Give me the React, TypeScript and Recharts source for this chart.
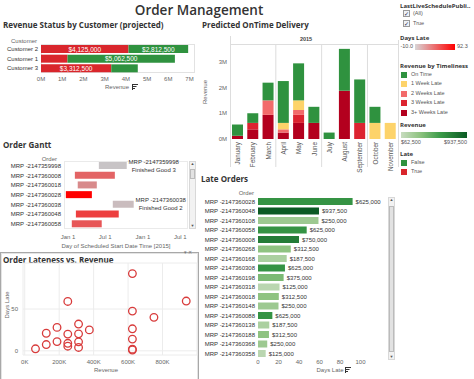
import React from 'react';
import { BarChart, Bar, XAxis, YAxis, ScatterChart, Scatter, CartesianGrid, LabelList, Cell } from 'recharts';

// Revenue Status by Customer (projected)
const customers = ['Customer 2', 'Customer 1', 'Customer 3'];
const customerLate = [4125000, 1250000, 3312500];
const customerOnTime = [2812500, 5062500, 1250000];
const revenueTicks = [0, 1000000, 2000000, 3000000, 4000000, 5000000, 6000000, 7000000];

// Predicted OnTime Delivery (revenue in millions)
const months = ['January', 'February', 'March', 'April', 'May', 'June', 'July', 'August', 'September', 'October', 'November'];
const onTimeM = [0.4375, 0.375, 0.6875, 1.625, 1.4375, 0.625, 0.25, 1.625, 1.6875, 0.625, 0];
const week1M = [0, 0, 0, 0.25, 0.375, 0, 0, 0, 0, 0.625, 0.625];
const week2M = [0, 0, 0.5625, 0.125, 0.1875, 0, 0, 0, 0, 0, 0];
const week3M = [0, 0.25, 0, 0, 0.3125, 0, 0, 0, 0.625, 0, 0];
const week3plusM = [0.125, 0.375, 0.9375, 0.25, 0.625, 0.625, 0, 1.875, 0, 0, 0];
const deliveryTicks = [0, 1, 2, 3];

const timeliness = ['On Time', '1 Week Late', '2 Weeks Late', '3 Weeks Late', '3+ Weeks Late'];

// Order Gantt (days from Jan 1 2015)
const ganttOrders = ['MRP -2147359998', 'MRP -2147360008', 'MRP -2147360018', 'MRP -2147360028', 'MRP -2147360038', 'MRP -2147360048', 'MRP -2147360058'];
const ganttStart = [150, 33, 47, -11, 218, 38, 18];
const ganttEnd = [286, 228, 140, 116, 320, 247, 164];
const ganttDaysLate = [-10, 40, 20.3, 92.3, -6, 59.5, 47.5];
const ganttProduct = ['Finished Good 3', '', '', '', 'Finished Good 2', '', ''];
const ganttTicks = [0, 181, 365, 547];
const ganttTickLabels = ['Jan 1', 'Jul 1', 'Jan 1', 'Jul 1'];

// Late Orders
const lateOrders = ['MRP -2147360028', 'MRP -2147360048', 'MRP -2147360108', 'MRP -2147360058', 'MRP -2147360008', 'MRP -2147360268', 'MRP -2147360168', 'MRP -2147360308', 'MRP -2147360198', 'MRP -2147360318', 'MRP -2147360018', 'MRP -2147360148', 'MRP -2147360088', 'MRP -2147360138', 'MRP -2147360188', 'MRP -2147360368', 'MRP -2147360358'];
const lateDays = [92.3, 59.5, 59, 47.5, 40, 32, 28, 26.3, 25, 21, 20.3, 20, 14, 11, 10.7, 9, 7.5];
const lateRevenue = [625000, 937500, 250000, 625000, 750000, 312500, 187500, 625000, 375000, 125000, 312500, 250000, 625000, 187500, 312500, 250000, 125000];
const lateTicks = [0, 20, 40, 60, 80, 100];

// orders further down the late list, only seen in the scatter
const otherRevenue = [625000, 625000, 312500, 250000, 62500];
const otherDays = [2, 1, 4, 5.5, 2.4];
const scatterXTicks = [0, 200000, 400000, 600000, 800000];
const scatterYTicks = [0, 50];

const RED = '#d9262c';
const GREEN = '#2f923f';
const STACK = ['#2f923f', '#fdd36a', '#f26b6b', '#dc2430', '#b3001e'];
const REV_STOPS = ['#c8dcbf', '#8cc27e', '#3a9a48', '#0b5a24'];

const money = (v: number) => '$' + v.toLocaleString('en-US');

function hex(c: string) {
  return [1, 3, 5].map(i => parseInt(c.slice(i, i + 2), 16));
}
function mix(a: string, b: string, t: number) {
  const A = hex(a), B = hex(b);
  return `rgb(${A.map((v, i) => Math.round(v + (B[i] - v) * t)).join(',')})`;
}
function daysLateColor(d: number) {
  const t = Math.max(0, Math.min(1, (d + 10) / 102.3));
  return mix('#c8c4c6', '#ff0000', t);
}
function revenueColor(r: number) {
  const t = Math.max(0, Math.min(1, (r - 62500) / 875000));
  const pos = [0, 0.3, 0.6, 1];
  let k = 0;
  while (k < 2 && t > pos[k + 1]) k++;
  return mix(REV_STOPS[k], REV_STOPS[k + 1], (t - pos[k]) / (pos[k + 1] - pos[k]));
}

const customerData = customers.map((c, i) => ({ customer: c, late: customerLate[i], onTime: customerOnTime[i] }));
const monthData = months.map((m, i) => ({
  month: m, w3p: week3plusM[i], w3: week3M[i], w2: week2M[i], w1: week1M[i], ok: onTimeM[i],
}));
const ganttData = ganttOrders.map((o, i) => ({
  order: o, range: [ganttStart[i], ganttEnd[i]], daysLate: ganttDaysLate[i],
  note: ganttProduct[i] ? `${o}|${ganttProduct[i]}` : '',
}));
const lateData = lateOrders.map((o, i) => ({ order: o, days: lateDays[i], revenue: lateRevenue[i] }));
const scatterData = [
  ...lateRevenue.map((r, i) => ({ revenue: r, days: lateDays[i] })),
  ...otherRevenue.map((r, i) => ({ revenue: r, days: otherDays[i] })),
];

const TITLE_FONT = '"Open Sans", sans-serif';

function Txt({ x, y, children, size = 6, weight = 400, color = '#555', align = 'left', rotate = false, font }: any) {
  const tx = align === 'left' ? '0' : align === 'center' ? '-50%' : '-100%';
  return (
    <div style={{
      position: 'absolute', left: x, top: y, transform: `translate(${tx}, -50%)${rotate ? ' rotate(-90deg)' : ''}`,
      fontSize: size, fontWeight: weight, color, whiteSpace: 'nowrap', lineHeight: 1, fontFamily: font,
    }}>{children}</div>
  );
}

function Box({ x, y, w, h, style }: any) {
  return <div style={{ position: 'absolute', left: x, top: y, width: w, height: h, boxSizing: 'border-box', ...style }} />;
}

function SortIcon({ x, y }: any) {
  return (
    <svg style={{ position: 'absolute', left: x, top: y }} width={7} height={6}>
      <line x1={1} y1={0.5} x2={7} y2={0.5} stroke="#333" />
      <line x1={1} y1={2.5} x2={5.5} y2={2.5} stroke="#333" />
      <line x1={1} y1={4.5} x2={4} y2={4.5} stroke="#333" />
      <line x1={1.5} y1={0} x2={1.5} y2={6} stroke="#333" />
    </svg>
  );
}

function CatTick({ x, y, payload }: any) {
  return (
    <text x={x} y={y} textAnchor="end" dominantBaseline="central" fontSize={6} fill="#333">{payload.value}</text>
  );
}

function InsideLabel(props: any) {
  const vb = props.viewBox || props;
  const x = props.x ?? vb.x, y = props.y ?? vb.y, width = props.width ?? vb.width, height = props.height ?? vb.height;
  if (!props.value || props.value < 2000000) return null;
  return (
    <text x={x + width / 2} y={y + height / 2} fill="#fff" fontSize={6.5} textAnchor="middle" dominantBaseline="central">
      {money(props.value)}
    </text>
  );
}

const BAND = 168 / 11;
function MonthTick({ x, y, payload, index }: any) {
  return (
    <g>
      <text x={x} y={y} transform={`rotate(-90 ${x} ${y})`} textAnchor="end" dominantBaseline="central" fontSize={6.3} fill="#555">
        {payload.value}
      </text>
      {index % 3 === 0 && index > 0 && (
        <line x1={x - BAND / 2} x2={x - BAND / 2} y1={y - 97} y2={y + 25} stroke="#ddd" />
      )}
    </g>
  );
}

function NoteLabel(props: any) {
  if (!props.value) return null;
  const vb = props.viewBox || props;
  const x = props.x ?? vb.x, y = props.y ?? vb.y, width = props.width ?? vb.width, height = props.height ?? vb.height;
  const [a, b] = String(props.value).split('|');
  const cx = x + width + 27;
  const cy = y + height / 2;
  return (
    <text fontSize={6} fill="#333" textAnchor="middle">
      <tspan x={cx} y={cy - 4} dominantBaseline="central">{a}</tspan>
      <tspan x={cx} y={cy + 4} dominantBaseline="central">{b}</tspan>
    </text>
  );
}

function Ring(p: any) {
  return <circle cx={p.cx} cy={p.cy} r={3.8} fill="none" stroke="#d83b3b" strokeWidth={1.3} />;
}

function Scrollbar({ x, y, h, thumbTop, thumbH }: any) {
  return (
    <>
      <Box x={x} y={y} w={7} h={h} style={{ background: '#f2f2f2', border: '1px solid #d8d8d8' }} />
      <Box x={x + 1} y={y + thumbTop} w={5} h={thumbH} style={{ background: '#e2e2e2', border: '1px solid #bbb' }} />
      <Txt x={x + 3.5} y={y + 3} size={4} align="center" color="#555">▲</Txt>
      <Txt x={x + 3.5} y={y + h - 3} size={4} align="center" color="#555">▼</Txt>
    </>
  );
}

const tickStyle = { fontSize: 6, fill: '#666' };

export default function App() {
  return (
    <div style={{ position: 'absolute', left: 0, top: 0, width: 474, height: 379, background: '#fff', overflow: 'hidden', fontFamily: '"Liberation Sans", Arial, sans-serif', color: '#555' }}>
      <Txt x={199} y={11} size={13.5} weight={600} color="#333" align="center" font={TITLE_FONT}>Order Management</Txt>

      {/* Revenue Status by Customer */}
      <Txt x={3} y={25} size={8} weight={700} color="#333" font={TITLE_FONT}>Revenue Status by Customer (projected)</Txt>
      <Txt x={37} y={41} size={6} color="#666" align="right">Customer</Txt>
      <Box x={41} y={44} w={154} h={29} style={{ border: '1px solid #e2e2e2' }} />
      <div style={{ position: 'absolute', left: 0, top: 36 }}>
        <BarChart width={200} height={60} data={customerData} layout="vertical" margin={{ top: 8, right: 5, left: 0, bottom: 0 }} barSize={8}>
          <XAxis type="number" domain={[0, 7260000]} ticks={revenueTicks} tickFormatter={(v: number) => `${v / 1000000}M`} axisLine={false} tickLine={false} tickSize={0} tickMargin={4} height={23} tick={tickStyle} interval={0} />
          <YAxis type="category" dataKey="customer" width={41} axisLine={false} tickLine={false} tickSize={0} tickMargin={3} tick={<CatTick />} interval={0} />
          <Bar dataKey="late" stackId="a" fill={RED} isAnimationActive={false}>
            <LabelList dataKey="late" content={InsideLabel} />
          </Bar>
          <Bar dataKey="onTime" stackId="a" fill={GREEN} isAnimationActive={false}>
            <LabelList dataKey="onTime" content={InsideLabel} />
          </Bar>
        </BarChart>
      </div>
      <Txt x={117} y={87} size={6} color="#666" align="center">Revenue</Txt>
      <SortIcon x={131} y={84} />

      {/* Predicted OnTime Delivery */}
      <Txt x={202} y={25} size={8} weight={700} color="#333" font={TITLE_FONT}>Predicted OnTime Delivery</Txt>
      <Txt x={306} y={40} size={5.5} weight={700} color="#444" align="center">2015</Txt>
      <Box x={230} y={44} w={168} h={1} style={{ background: '#ddd' }} />
      <Box x={230} y={36} w={1} h={131} style={{ background: '#ddd' }} />
      <Box x={398} y={40} w={1} h={127} style={{ background: '#ddd' }} />
      <Txt x={205} y={92} size={6} color="#666" align="center" rotate>Revenue</Txt>
      <div style={{ position: 'absolute', left: 195, top: 36 }}>
        <BarChart width={210} height={140} data={monthData} margin={{ top: 9, right: 7, left: 0, bottom: 0 }} barSize={11}>
          <XAxis dataKey="month" interval={0} axisLine={false} tickLine={false} tickSize={0} tickMargin={3} height={37} tick={<MonthTick />} />
          <YAxis domain={[0, 3.65]} ticks={deliveryTicks} tickFormatter={(v: number) => `${v}M`} width={35} axisLine={false} tickLine={false} tickSize={0} tickMargin={3} tick={tickStyle} />
          <Bar dataKey="w3p" stackId="s" fill={STACK[4]} isAnimationActive={false} />
          <Bar dataKey="w3" stackId="s" fill={STACK[3]} isAnimationActive={false} />
          <Bar dataKey="w2" stackId="s" fill={STACK[2]} isAnimationActive={false} />
          <Bar dataKey="w1" stackId="s" fill={STACK[1]} isAnimationActive={false} />
          <Bar dataKey="ok" stackId="s" fill={STACK[0]} isAnimationActive={false} />
        </BarChart>
      </div>

      {/* Legends */}
      <Txt x={400} y={6} size={6} weight={700} color="#333" font={TITLE_FONT}>LastLiveSchedulePubli..</Txt>
      {['(All)', 'True'].map((t, i) => (
        <React.Fragment key={t}>
          <Box x={403} y={10 + i * 10} w={7} h={7} style={{ border: '1px solid #999', background: '#eef2f8' }} />
          <Txt x={406.5} y={13.5 + i * 10} size={6} color="#224" align="center">✓</Txt>
          <Txt x={413} y={13.5 + i * 10} size={5.5} color="#555">{t}</Txt>
        </React.Fragment>
      ))}
      <Txt x={400} y={37.5} size={6} weight={700} color="#333" font={TITLE_FONT}>Days Late</Txt>
      <Box x={415} y={44} w={40} h={6} style={{ background: 'linear-gradient(to right, #d8d6d7, #ff0000)' }} />
      <Txt x={413} y={47} size={5.5} color="#555" align="right">-10.0</Txt>
      <Txt x={457} y={47} size={5.5} color="#555">92.3</Txt>
      <Txt x={400} y={66} size={6} weight={700} color="#333" font={TITLE_FONT}>Revenue by Timeliness</Txt>
      {timeliness.map((t, i) => (
        <React.Fragment key={t}>
          <Box x={401} y={72 + i * 9.4} w={6} h={6} style={{ background: STACK[i] }} />
          <Txt x={411} y={75 + i * 9.4} size={5.5} color="#555">{t}</Txt>
        </React.Fragment>
      ))}
      <Txt x={400} y={125} size={6} weight={700} color="#333" font={TITLE_FONT}>Revenue</Txt>
      <Box x={401} y={132} w={66} h={6} style={{ background: `linear-gradient(to right, ${REV_STOPS[0]}, ${REV_STOPS[1]} 30%, ${REV_STOPS[2]} 60%, ${REV_STOPS[3]})` }} />
      <Txt x={401} y={142.5} size={5.5} color="#555">{money(62500)}</Txt>
      <Txt x={467} y={142.5} size={5.5} color="#555" align="right">{money(937500)}</Txt>
      <Txt x={400} y={154} size={6} weight={700} color="#333" font={TITLE_FONT}>Late</Txt>
      {['False', 'True'].map((t, i) => (
        <React.Fragment key={t}>
          <Box x={401} y={159.5 + i * 9.4} w={6} h={6} style={{ background: i ? RED : GREEN }} />
          <Txt x={411} y={162.5 + i * 9.4} size={5.5} color="#555">{t}</Txt>
        </React.Fragment>
      ))}

      {/* Order Gantt */}
      <Txt x={3} y={145} size={8} weight={700} color="#333" font={TITLE_FONT}>Order Gantt</Txt>
      <Txt x={57} y={159} size={6} color="#666" align="right">Order</Txt>
      <Box x={64} y={161} w={124} h={68} style={{ border: '1px solid #eaeaea' }} />
      <div style={{ position: 'absolute', left: 0, top: 155 }}>
        <BarChart width={200} height={95} data={ganttData} layout="vertical" margin={{ top: 6, right: 13, left: 0, bottom: 0 }} barSize={7}>
          <XAxis type="number" domain={[-20, 580]} ticks={ganttTicks} tickFormatter={(v: number) => ganttTickLabels[ganttTicks.indexOf(v)]} axisLine={false} tickLine={false} tickSize={0} tickMargin={6} height={21} tick={tickStyle} interval={0} />
          <YAxis type="category" dataKey="order" width={64} axisLine={false} tickLine={false} tickSize={0} tickMargin={3} tick={<CatTick />} interval={0} />
          <Bar dataKey="range" isAnimationActive={false}>
            {ganttData.map((d, i) => <Cell key={i} fill={daysLateColor(d.daysLate)} />)}
            <LabelList dataKey="note" content={NoteLabel} />
          </Bar>
        </BarChart>
      </div>
      <Scrollbar x={189} y={161} h={68} thumbTop={8} thumbH={10} />
      <Txt x={116} y={245.5} size={6} color="#666" align="center">Day of Scheduled Start Date Time [2015]</Txt>

      {/* Late Orders */}
      <Txt x={201} y={179} size={8} weight={700} color="#333" font={TITLE_FONT}>Late Orders</Txt>
      <Txt x={254} y={192.5} size={6} color="#666" align="right">Order</Txt>
      <div style={{ position: 'absolute', left: 195, top: 190 }}>
        <BarChart width={200} height={180} data={lateData} layout="vertical" margin={{ top: 7, right: 14, left: 0, bottom: 0 }} barSize={7}>
          <XAxis type="number" domain={[0, 120]} ticks={lateTicks} axisLine={false} tickLine={false} tickSize={0} tickMargin={1} height={11.5} tick={tickStyle} interval={0} />
          <YAxis type="category" dataKey="order" width={63} axisLine={false} tickLine={false} tickSize={0} tickMargin={3} tick={<CatTick />} interval={0} />
          <Bar dataKey="days" isAnimationActive={false}>
            {lateData.map((d, i) => <Cell key={i} fill={revenueColor(d.revenue)} />)}
            <LabelList dataKey="revenue" position="right" offset={3} formatter={(v: any) => money(Number(v))} style={{ fontSize: 6, fill: '#333' }} />
          </Bar>
        </BarChart>
      </div>
      <Scrollbar x={388} y={197} h={163} thumbTop={9} thumbH={146} />
      <Txt x={330} y={369.5} size={6} color="#666" align="center">Days Late</Txt>
      <SortIcon x={344} y={366.5} />

      {/* Order Lateness vs. Revenue */}
      <Box x={0} y={252} w={199} h={132} style={{ border: '1px solid #a8a8a8', boxShadow: 'inset 0 0 0 1px #e4e4e4' }} />
      <Txt x={184} y={251.5} size={5} color="#777">▾ ✕</Txt>
      <Txt x={3} y={260} size={8} weight={700} color="#333" font={TITLE_FONT}>Order Lateness vs. Revenue</Txt>
      <Txt x={7} y={305} size={6} color="#666" align="center" rotate>Days Late</Txt>
      <div style={{ position: 'absolute', left: 0, top: 258 }}>
        <ScatterChart width={200} height={118} margin={{ top: 5, right: 3, left: 0, bottom: 0 }}>
          <CartesianGrid stroke="#ececec" />
          <XAxis type="number" dataKey="revenue" domain={[-10000, 1000000]} ticks={scatterXTicks} tickFormatter={(v: number) => `${v / 1000}K`} axisLine={false} tickLine={false} tickSize={0} tickMargin={5} height={21} tick={tickStyle} interval={0} />
          <YAxis type="number" dataKey="days" domain={[-5, 105]} ticks={scatterYTicks} width={23} axisLine={false} tickLine={false} tickSize={0} tickMargin={5} tick={tickStyle} interval={0} />
          <Scatter data={scatterData} shape={Ring} isAnimationActive={false} />
        </ScatterChart>
      </div>
      <Txt x={106} y={369.5} size={6} color="#666" align="center">Revenue</Txt>
    </div>
  );
}
